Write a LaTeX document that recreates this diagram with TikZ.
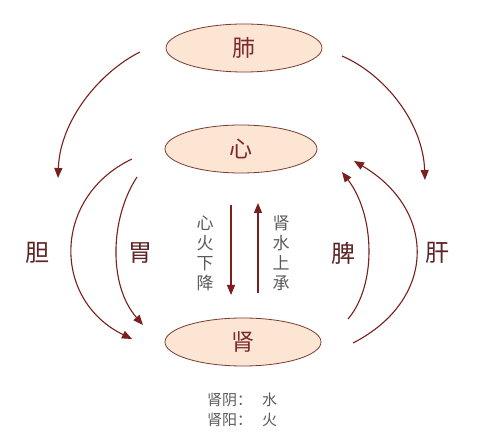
\documentclass[tikz,border=0pt]{standalone}
\usepackage{fontspec}
\newfontfamily\cjk{Noto Sans CJK SC}
\usetikzlibrary{arrows.meta,shapes.geometric}
\definecolor{fillpeach}{HTML}{FCE6D3}
\definecolor{edgebrown}{HTML}{7A3A30}
\definecolor{organtext}{HTML}{7A2A2A}
\definecolor{labeltext}{HTML}{5E2424}
\definecolor{arrowred}{HTML}{7A1E1E}
\definecolor{graytext}{HTML}{5A5A5A}
\tikzset{
  organ/.style={ellipse, draw=edgebrown, line width=0.8pt, fill=fillpeach,
    minimum width=156pt, minimum height=48pt, inner sep=0pt,
    font=\cjk\fontsize{23}{23}\selectfont, text=organtext},
  sidelabel/.style={font=\cjk\fontsize{24}{24}\selectfont, text=labeltext, inner sep=0pt},
  vtext/.style={font=\cjk\fontsize{17}{20}\selectfont, text=graytext, align=center, inner sep=0pt},
  btext/.style={font=\cjk\fontsize{15}{20}\selectfont, text=graytext, align=left, inner sep=0pt},
  flow/.style={draw=arrowred, line width=1.1pt, -{Triangle[length=10pt,width=8pt]}, fill=none},
}
\begin{document}
\begin{tikzpicture}[x=1pt,y=-1pt]
\useasboundingbox (0,0) rectangle (480,441);
\fill[white] (0,0) rectangle (480,441);
\node[organ] (fei) at (244,48) {肺};
\node[organ, minimum width=152pt] (xin) at (241,149) {心};
\node[organ] (shen) at (243,342) {肾};

% vertical arrows
\coordinate (dtop) at (231,205);
\coordinate (dbot) at (231,295);
\coordinate (utop) at (258,203);
\coordinate (ubot) at (258,293);
\draw[flow] (dtop) -- (dbot);
\draw[flow] (ubot) -- (utop);
\node[vtext] (xhxj) at (205,253) {心\\火\\下\\降};
\node[vtext] (sssc) at (281,253) {肾\\水\\上\\承};

% left curves
\coordinate (l1s) at (140,52);
\coordinate (l1e) at (58,178);
\draw[flow] (l1s) .. controls (100,72) and (60,120) .. (l1e);
\coordinate (l2s) at (132,159);
\coordinate (l2e) at (132,339);
\draw[flow] (l2s) .. controls (52,197) and (52,300) .. (l2e);
\coordinate (l3s) at (137,177);
\coordinate (l3e) at (143,325);
\draw[flow] (l3s) .. controls (110,218) and (108,285) .. (l3e);
\node[sidelabel] (dan) at (38,253) {胆};
\node[sidelabel] (wei) at (140,253) {胃};

% right curves
\coordinate (r1s) at (342,56);
\coordinate (r1e) at (425,180);
\draw[flow] (r1s) .. controls (384,74) and (423,122) .. (r1e);
\coordinate (r2s) at (348,319);
\coordinate (r2e) at (342,172);
\draw[flow] (r2s) .. controls (377,285) and (375,215) .. (r2e);
\coordinate (r3s) at (353,343);
\coordinate (r3e) at (354,161);
\draw[flow] (r3s) .. controls (437,300) and (437,210) .. (r3e);
\node[sidelabel] (pi) at (343,253) {脾};
\node[sidelabel] (gan) at (437,253) {肝};

% bottom text
\node[btext, anchor=west] (yinyang) at (207,410) {肾阴：\hspace{10pt}水\\肾阳：\hspace{10pt}火};
\end{tikzpicture}
\end{document}
